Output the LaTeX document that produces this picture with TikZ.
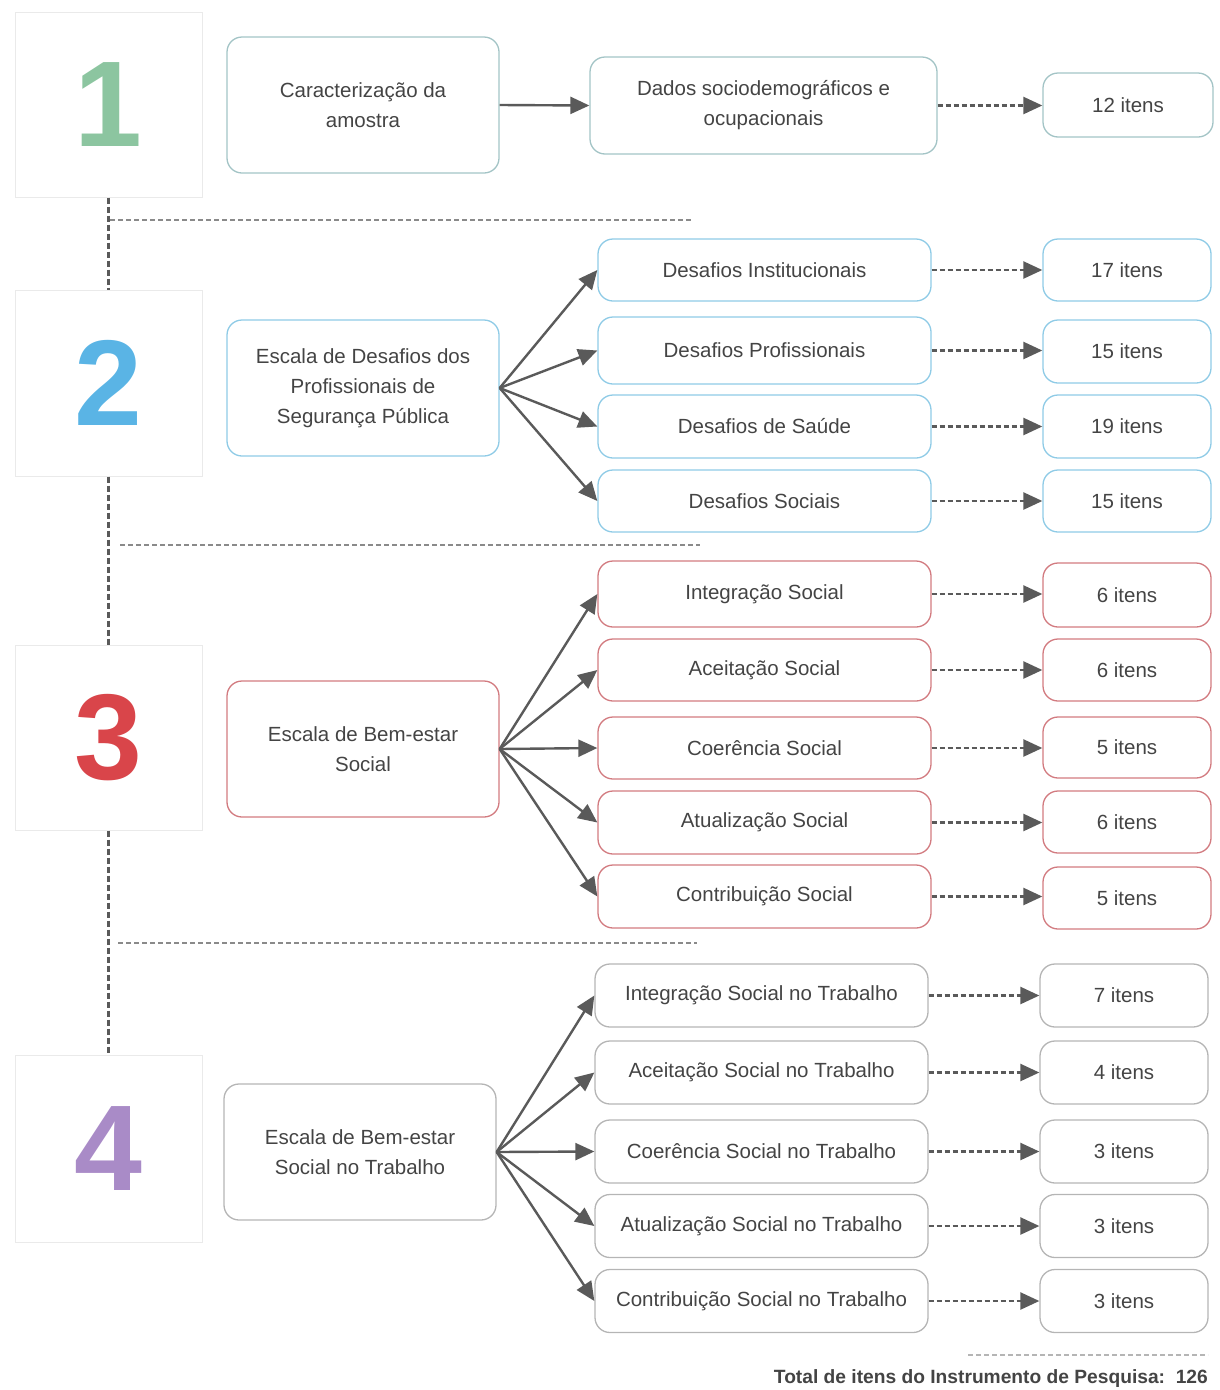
\documentclass[tikz,border=0pt]{standalone}
\usepackage{fontspec}
\setmainfont{Liberation Sans}
\usetikzlibrary{arrows.meta}
\definecolor{txt}{HTML}{444444}
\definecolor{arr}{HTML}{5A5A5A}
\definecolor{bteal}{HTML}{A3C4C6}
\definecolor{bblue}{HTML}{8FCBE6}
\definecolor{bred}{HTML}{D27B80}
\definecolor{bgray}{HTML}{B5B5B5}
\definecolor{nbox}{HTML}{EAEAEA}
\definecolor{sep}{HTML}{8A8A8A}
\definecolor{cgreen}{HTML}{8CC5A0}
\definecolor{cblue}{HTML}{5AB4E5}
\definecolor{cred}{HTML}{D9454A}
\definecolor{cpurple}{HTML}{A98BC7}
\tikzset{
  numbox/.style={draw=nbox, line width=1pt, minimum width=187pt, minimum height=186pt, inner sep=0pt,
     font=\fontsize{122}{122}\selectfont\bfseries},
  rbox/.style={draw=#1, line width=1.3pt, rounded corners=15pt, inner sep=2pt, align=center,
     text=txt, font=\fontsize{20.5}{30}\selectfont},
  mainbox/.style={rbox=#1, minimum width=272pt, minimum height=136pt},
  subbox/.style={rbox=#1, minimum width=333pt, minimum height=63pt},
  itembox/.style={rbox=#1, minimum width=168pt, minimum height=63pt},
  solidarr/.style={draw=arr, line width=2.4pt, -{Triangle[length=19pt,width=17pt]}},
  dasharr/.style={draw=arr, line width=2.4pt, dash pattern=on 5pt off 3pt, -{Triangle[length=19pt,width=17pt]}},
  vdots/.style={draw=arr, line width=2.4pt, dash pattern=on 6pt off 3pt},
  hsep/.style={draw=sep, line width=1.5pt, dash pattern=on 5pt off 3pt},
}
\begin{document}
\begin{tikzpicture}[x=1pt,y=-1pt]
\useasboundingbox (0,0) rectangle (1219,1390);
% number boxes
\node[numbox, minimum height=185pt, text=cgreen] (n1) at (108.5,104.5) {1};
\node[numbox, text=cblue] (n2) at (108.5,383) {2};
\node[numbox, minimum height=185pt, text=cred] (n3) at (108.5,737.5) {3};
\node[numbox, minimum height=187pt, text=cpurple] (n4) at (108.5,1148.5) {4};
\draw[vdots] (n1.south) -- (n2.north);
\draw[vdots] (n2.south) -- (n3.north);
\draw[vdots] (n3.south) -- (n4.north);
% separators
\draw[hsep] (110,220) -- (693,220);
\draw[hsep] (120,545) -- (700,545);
\draw[hsep] (118,943) -- (697,943);
% section 1
\node[mainbox=bteal] (c1) at (363,105) {Caracterização da\\amostra};
\node[rbox=bteal, minimum width=347pt, minimum height=97pt] (d1) at (763.5,105.5) {Dados sociodemográficos e\\ocupacionais};
\node[itembox=bteal, minimum width=170pt, minimum height=64pt] (i1) at (1128,105) {12 itens};
\draw[solidarr] (c1.east) -- (d1.west);
\draw[dasharr] (d1.east) -- (d1.east -| i1.west);
% section 2
\node[mainbox=bblue] (c2) at (363,388) {Escala de Desafios dos\\Profissionais de\\Segurança Pública};
\node[subbox=bblue, minimum height=62pt] (s21) at (764.5,270) {Desafios Institucionais};
\node[subbox=bblue, minimum height=67pt] (s22) at (764.5,350.5) {Desafios Profissionais};
\node[subbox=bblue] (s23) at (764.5,426.5) {Desafios de Saúde};
\node[subbox=bblue, minimum height=62pt] (s24) at (764.5,501) {Desafios Sociais};
\node[itembox=bblue, minimum height=62pt] (i21) at (1127,270) {17 itens};
\node[itembox=bblue] (i22) at (1127,351.5) {15 itens};
\node[itembox=bblue] (i23) at (1127,426.5) {19 itens};
\node[itembox=bblue, minimum height=62pt] (i24) at (1127,501) {15 itens};
\foreach \k in {1,...,4}{
  \draw[solidarr] (c2.east) -- (s2\k.west);
  \draw[dasharr] (s2\k.east) -- (s2\k.east -| i2\k.west);
}
% section 3
\node[mainbox=bred] (c3) at (363,749) {Escala de Bem-estar\\Social};
\node[subbox=bred, minimum height=66pt] (s31) at (764.5,594) {Integração Social};
\node[subbox=bred, minimum height=62pt] (s32) at (764.5,670) {Aceitação Social};
\node[subbox=bred, minimum height=62pt] (s33) at (764.5,748) {Coerência Social};
\node[subbox=bred] (s34) at (764.5,822.5) {Atualização Social};
\node[subbox=bred] (s35) at (764.5,896.5) {Contribuição Social};
\node[itembox=bred, minimum height=64pt] (i31) at (1127,595) {6 itens};
\node[itembox=bred, minimum height=62pt] (i32) at (1127,670) {6 itens};
\node[itembox=bred, minimum height=61pt] (i33) at (1127,747.5) {5 itens};
\node[itembox=bred, minimum height=62pt] (i34) at (1127,822) {6 itens};
\node[itembox=bred, minimum height=62pt] (i35) at (1127,898) {5 itens};
\foreach \k in {1,...,5}{
  \draw[solidarr] (c3.east) -- (s3\k.west);
  \draw[dasharr] (s3\k.east) -- (s3\k.east -| i3\k.west);
}
% section 4
\node[mainbox=bgray] (c4) at (360,1152) {Escala de Bem-estar\\Social no Trabalho};
\node[subbox=bgray] (s41) at (761.5,995.5) {Integração Social no Trabalho};
\node[subbox=bgray] (s42) at (761.5,1072.5) {Aceitação Social no Trabalho};
\node[subbox=bgray] (s43) at (761.5,1151.5) {Coerência Social no Trabalho};
\node[subbox=bgray] (s44) at (761.5,1226) {Atualização Social no Trabalho};
\node[subbox=bgray] (s45) at (761.5,1301) {Contribuição Social no Trabalho};
\node[itembox=bgray] (i41) at (1124,995.5) {7 itens};
\node[itembox=bgray] (i42) at (1124,1072.5) {4 itens};
\node[itembox=bgray] (i43) at (1124,1151.5) {3 itens};
\node[itembox=bgray] (i44) at (1124,1226) {3 itens};
\node[itembox=bgray] (i45) at (1124,1301) {3 itens};
\foreach \k in {1,...,5}{
  \draw[solidarr] (c4.east) -- (s4\k.west);
  \draw[dasharr] (s4\k.east) -- (s4\k.east -| i4\k.west);
}
% total
\draw[hsep, draw=bgray] (968,1355) -- (1208,1355);
\node[anchor=east, inner sep=0pt, text=txt, font=\fontsize{19.2}{22}\selectfont\bfseries] (tot) at (1208,1379) {Total de itens do Instrumento de Pesquisa:\ \ 126};
\end{tikzpicture}
\end{document}
